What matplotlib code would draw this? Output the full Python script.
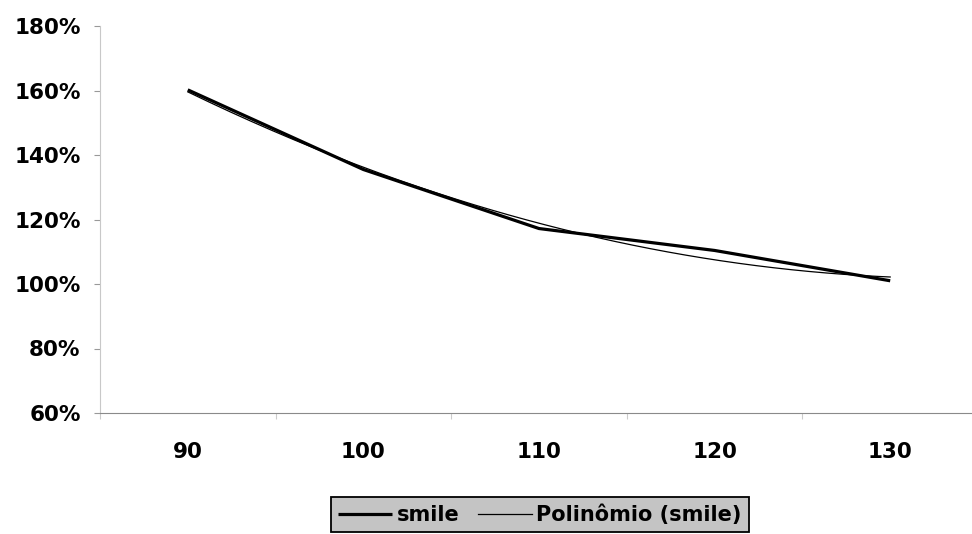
import numpy as np
import matplotlib
matplotlib.use("Agg")
import matplotlib.pyplot as plt
from matplotlib.ticker import FuncFormatter

# volatility smile
strikes = [90, 100, 110, 120, 130]
smile = [1.602, 1.355, 1.172, 1.104, 1.010]
y_ticks = [0.6, 0.8, 1.0, 1.2, 1.4, 1.6, 1.8]

plt.rcParams['font.family'] = 'DejaVu Sans'
plt.rcParams['font.weight'] = 'bold'

fig = plt.figure(figsize=(9.72, 5.34), dpi=100)
ax = fig.add_axes([100 / 972, 1 - 413 / 534, 878 / 972, 387 / 534])

pos = np.arange(len(strikes))
ax.plot(pos, smile, color='black', lw=2.3, label='smile', solid_capstyle='butt')

# Excel style 2nd order polynomial trendline of the series
coef = np.polyfit(pos, smile, 2)
xs = np.linspace(pos[0], pos[-1], 200)
ax.plot(xs, np.polyval(coef, xs), color='black', lw=0.9, label='Polinômio (smile)')

ax.set_xlim(-0.5, len(strikes) - 0.5)
ax.set_ylim(0.6, 1.8)
ax.set_yticks(y_ticks)
ax.yaxis.set_major_formatter(FuncFormatter(lambda v, p: f"{v * 100:.0f}%"))
ax.set_xticks(pos)
ax.set_xticklabels([str(s) for s in strikes])
ax.set_xticks(np.arange(-0.5, len(strikes)), minor=True)

ax.tick_params(axis='y', length=4, width=0.8, color='#999999', pad=10, labelsize=15.5)
ax.tick_params(axis='x', which='major', length=0, pad=21, labelsize=15.5)
ax.tick_params(axis='x', which='minor', length=4, width=0.8, color='#cccccc')

for side in ['top', 'right']:
    ax.spines[side].set_visible(False)
ax.spines['left'].set_color('#c8c8c8')
ax.spines['left'].set_linestyle((0, (1, 1)))
ax.spines['bottom'].set_color('#8a8a8a')

leg = ax.legend(loc='upper center', bbox_to_anchor=(540 / 972, 1 - 497 / 534),
                bbox_transform=fig.transFigure, ncol=2, frameon=True, fancybox=False,
                fontsize=15, handlelength=2.6, handletextpad=0.2, columnspacing=0.9,
                borderpad=0.35, borderaxespad=0)
frame = leg.get_frame()
frame.set_facecolor('#c4c4c4')
frame.set_edgecolor('black')
frame.set_linewidth(1.3)
frame.set_alpha(1)

plt.savefig('out.png', dpi=100)
